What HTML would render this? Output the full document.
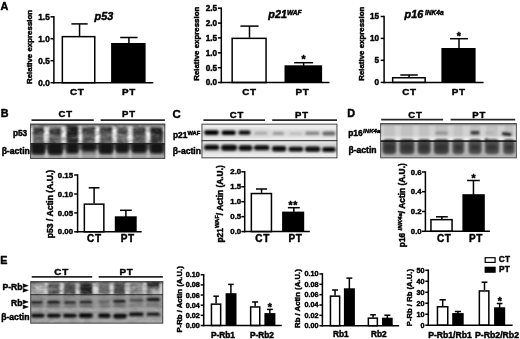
<!DOCTYPE html>
<html><head><meta charset="utf-8"><title>Figure</title>
<style>
html,body{margin:0;padding:0;background:#fff;}
svg{display:block;filter:blur(0.35px)}
text{font-family:"Liberation Sans",sans-serif;font-weight:bold;fill:#000;stroke:#000;stroke-width:0.45px;stroke-linejoin:round;}
</style></head>
<body>
<svg width="520" height="339" viewBox="0 0 520 339">
<rect width="520" height="339" fill="#fff"/>
<defs>
<filter id="b06" x="-20%" y="-20%" width="140%" height="140%"><feGaussianBlur stdDeviation="0.6"/></filter>
<filter id="b09" x="-20%" y="-20%" width="140%" height="140%"><feGaussianBlur stdDeviation="0.9"/></filter>
<filter id="b13" x="-20%" y="-20%" width="140%" height="140%"><feGaussianBlur stdDeviation="1.3"/></filter>
<filter id="b04" x="-20%" y="-20%" width="140%" height="140%"><feGaussianBlur stdDeviation="0.4"/></filter>
<filter id="nzd" x="0" y="0" width="100%" height="100%"><feTurbulence type="fractalNoise" baseFrequency="0.13 0.2" numOctaves="2" seed="7"/><feColorMatrix type="matrix" values="0 0 0 0 0  0 0 0 0 0  0 0 0 0 0  2.2 0 0 0 -0.85"/></filter>
<filter id="nzl" x="0" y="0" width="100%" height="100%"><feTurbulence type="fractalNoise" baseFrequency="0.15 0.22" numOctaves="2" seed="21"/><feColorMatrix type="matrix" values="0 0 0 0 1  0 0 0 0 1  0 0 0 0 1  0 2.2 0 0 -0.95"/></filter>
</defs>
<clipPath id="cB"><rect x="30.20" y="123.70" width="135.00" height="35.10"/></clipPath>
<linearGradient id="gB" x1="0" y1="0" x2="0" y2="1"><stop offset="0" stop-color="#8a8a8a"/><stop offset="0.12" stop-color="#c8c8c8"/><stop offset="0.3" stop-color="#f4f4f4"/><stop offset="1" stop-color="#f6f6f6"/></linearGradient>
<linearGradient id="gBa" x1="0" y1="0" x2="0" y2="1"><stop offset="0" stop-color="#4a4a4a"/><stop offset="0.55" stop-color="#6a6a6a"/><stop offset="0.8" stop-color="#a4a4a4"/><stop offset="1" stop-color="#9a9a9a"/></linearGradient>
<g clip-path="url(#cB)">
<rect x="30.20" y="123.70" width="135.00" height="19.90" fill="url(#gB)"/>
<rect x="30.20" y="143.60" width="135.00" height="15.20" fill="url(#gBa)"/>
<g filter="url(#b09)">
<rect x="28.20" y="122.70" width="139.00" height="2.60" fill="#555"/>
<rect x="32.80" y="126.70" width="11.10" height="16.90" fill="#4a4a4a" opacity="0.7400000000000001"/>
<rect x="33.00" y="127.50" width="10.70" height="7.10" fill="#0a0a0a" opacity="0.48"/>
<rect x="33.20" y="137.20" width="10.30" height="4.40" fill="#111" opacity="0.27999999999999997"/>
<rect x="49.20" y="126.70" width="12.20" height="16.90" fill="#4a4a4a" opacity="0.7240000000000001"/>
<rect x="49.40" y="127.50" width="11.80" height="7.10" fill="#0a0a0a" opacity="0.46799999999999997"/>
<rect x="49.60" y="137.20" width="11.40" height="4.40" fill="#111" opacity="0.27299999999999996"/>
<rect x="66.70" y="126.70" width="11.50" height="16.90" fill="#4a4a4a" opacity="0.876"/>
<rect x="66.90" y="127.50" width="11.10" height="7.10" fill="#0a0a0a" opacity="0.582"/>
<rect x="67.10" y="137.20" width="10.70" height="4.40" fill="#111" opacity="0.33949999999999997"/>
<rect x="82.20" y="126.70" width="12.80" height="16.90" fill="#4a4a4a" opacity="0.7400000000000001"/>
<rect x="82.40" y="127.50" width="12.40" height="7.10" fill="#0a0a0a" opacity="0.48"/>
<rect x="82.60" y="137.20" width="12.00" height="4.40" fill="#111" opacity="0.27999999999999997"/>
<rect x="99.80" y="126.70" width="12.20" height="16.90" fill="#4a4a4a" opacity="0.7400000000000001"/>
<rect x="100.00" y="127.50" width="11.80" height="7.10" fill="#0a0a0a" opacity="0.48"/>
<rect x="100.20" y="137.20" width="11.40" height="4.40" fill="#111" opacity="0.27999999999999997"/>
<rect x="116.80" y="126.70" width="10.90" height="16.90" fill="#4a4a4a" opacity="0.6759999999999999"/>
<rect x="117.00" y="127.50" width="10.50" height="7.10" fill="#0a0a0a" opacity="0.432"/>
<rect x="117.20" y="137.20" width="10.10" height="4.40" fill="#111" opacity="0.252"/>
<rect x="132.60" y="126.70" width="13.10" height="16.90" fill="#4a4a4a" opacity="0.788"/>
<rect x="132.80" y="127.50" width="12.70" height="7.10" fill="#0a0a0a" opacity="0.516"/>
<rect x="133.00" y="137.20" width="12.30" height="4.40" fill="#111" opacity="0.301"/>
<rect x="150.60" y="126.70" width="12.40" height="16.90" fill="#4a4a4a" opacity="0.8360000000000001"/>
<rect x="150.80" y="127.50" width="12.00" height="7.10" fill="#0a0a0a" opacity="0.552"/>
<rect x="151.00" y="137.20" width="11.60" height="4.40" fill="#111" opacity="0.322"/>
<rect x="66.50" y="123.70" width="11.90" height="19.90" fill="#0c0c0c" opacity="0.55"/>
<rect x="150.40" y="128.70" width="12.80" height="13.90" fill="#0c0c0c" opacity="0.4"/>
<rect x="45.00" y="150.00" width="3.00" height="8.80" fill="#d4d4d4" opacity="0.75"/>
<rect x="62.50" y="150.00" width="3.00" height="8.80" fill="#d4d4d4" opacity="0.75"/>
<rect x="78.70" y="150.00" width="3.00" height="8.80" fill="#d4d4d4" opacity="0.75"/>
<rect x="95.90" y="150.00" width="3.00" height="8.80" fill="#d4d4d4" opacity="0.75"/>
<rect x="112.90" y="150.00" width="3.00" height="8.80" fill="#d4d4d4" opacity="0.75"/>
<rect x="128.70" y="150.00" width="3.00" height="8.80" fill="#d4d4d4" opacity="0.75"/>
<rect x="146.70" y="150.00" width="3.00" height="8.80" fill="#d4d4d4" opacity="0.75"/>
</g>
<g filter="url(#b13)">
<rect x="31.70" y="143.10" width="13.20" height="11.30" rx="3.0" fill="#080808" opacity="0.9"/>
<rect x="48.10" y="143.10" width="14.40" height="11.70" rx="3.0" fill="#080808" opacity="0.9"/>
<rect x="66.60" y="143.10" width="11.60" height="10.10" rx="3.0" fill="#080808" opacity="0.9"/>
<rect x="81.80" y="143.10" width="14.00" height="7.70" rx="3.0" fill="#080808" opacity="0.9"/>
<rect x="99.20" y="143.10" width="13.60" height="10.70" rx="3.0" fill="#080808" opacity="0.9"/>
<rect x="116.10" y="143.10" width="12.40" height="9.50" rx="3.0" fill="#080808" opacity="0.9"/>
<rect x="132.00" y="143.10" width="14.40" height="9.30" rx="3.0" fill="#080808" opacity="0.9"/>
<rect x="150.40" y="143.10" width="12.80" height="10.10" rx="3.0" fill="#080808" opacity="0.9"/>
</g>
<rect x="30.20" y="125.70" width="135.00" height="17.90" fill="#000" opacity="0.32" filter="url(#nzd)"/>
<rect x="30.20" y="125.70" width="135.00" height="17.90" fill="#fff" opacity="0.22" filter="url(#nzl)"/>
<rect x="30.20" y="143.00" width="135.00" height="1.30" fill="#1c1c1c" opacity="0.9"/>
</g>
<rect x="30.60" y="124.10" width="134.20" height="34.30" fill="none" stroke="#3a3a3a" stroke-width="0.9"/>
<clipPath id="cC"><rect x="201.50" y="123.70" width="135.90" height="34.60"/></clipPath>
<g clip-path="url(#cC)">
<rect x="201.50" y="123.70" width="135.90" height="34.60" fill="#ececec"/>
<g filter="url(#b13)">
<rect x="201.50" y="128.50" width="68.50" height="9.00" fill="#cfcfcf" opacity="0.7"/>
<rect x="201.50" y="143.00" width="135.90" height="10.00" fill="#cccccc" opacity="0.8"/>
<rect x="270.00" y="129.50" width="67.40" height="7.50" fill="#d6d6d6" opacity="0.8"/>
</g>
<g filter="url(#b09)">
<rect x="204.20" y="130.20" width="14.60" height="4.80" rx="2.4" fill="#050505"/>
<rect x="221.60" y="130.50" width="14.20" height="4.60" rx="2.3" fill="#050505"/>
<rect x="238.50" y="130.60" width="12.10" height="4.20" rx="2.1" fill="#0a0a0a"/>
<rect x="254.60" y="131.80" width="12.70" height="3.00" rx="1.5" fill="#9a9a9a" opacity="0.75"/>
<rect x="272.60" y="131.80" width="11.40" height="3.20" rx="1.6" fill="#8a8a8a" opacity="0.8"/>
<rect x="289.40" y="132.30" width="13.00" height="2.60" rx="1.3" fill="#b0b0b0" opacity="0.7"/>
<rect x="305.20" y="131.50" width="14.20" height="3.40" rx="1.7" fill="#7a7a7a" opacity="0.85"/>
<rect x="322.40" y="131.60" width="13.00" height="4.00" rx="2.0" fill="#5a5a5a" opacity="0.9"/>
<rect x="204.20" y="144.70" width="14.80" height="5.40" rx="2.7" fill="#080808"/>
<rect x="221.20" y="144.80" width="15.80" height="6.00" rx="3.0" fill="#080808"/>
<rect x="238.60" y="145.30" width="13.80" height="5.40" rx="2.7" fill="#080808"/>
<rect x="254.00" y="145.30" width="15.40" height="5.00" rx="2.5" fill="#080808"/>
<rect x="272.00" y="146.10" width="14.20" height="5.40" rx="2.7" fill="#080808"/>
<rect x="288.60" y="146.80" width="14.60" height="4.80" rx="2.4" fill="#080808"/>
<rect x="305.00" y="146.50" width="15.20" height="5.20" rx="2.6" fill="#080808"/>
<rect x="322.20" y="147.00" width="13.40" height="5.00" rx="2.5" fill="#080808"/>
</g>
<rect x="201.50" y="140.10" width="135.90" height="1.10" fill="#2a2a2a" opacity="0.95"/>
</g>
<rect x="201.95" y="124.15" width="135.00" height="33.70" fill="none" stroke="#333" stroke-width="0.9"/>
<clipPath id="cD"><rect x="380.20" y="123.20" width="136.60" height="35.10"/></clipPath>
<g clip-path="url(#cD)">
<rect x="380.20" y="123.20" width="136.60" height="17.90" fill="#d2d2d2"/>
<rect x="380.20" y="141.10" width="136.60" height="17.20" fill="#b4b4b4"/>
<g filter="url(#b13)">
<rect x="383.80" y="124.20" width="11.00" height="12.80" fill="#b9b9b9" opacity="0.7"/>
<rect x="400.90" y="124.20" width="12.10" height="12.80" fill="#b9b9b9" opacity="0.7"/>
<rect x="419.00" y="124.20" width="10.20" height="12.80" fill="#b9b9b9" opacity="0.7"/>
<rect x="435.20" y="124.20" width="12.40" height="12.80" fill="#b9b9b9" opacity="0.7"/>
<rect x="453.80" y="124.20" width="9.00" height="12.80" fill="#b9b9b9" opacity="0.7"/>
<rect x="469.90" y="124.20" width="10.40" height="12.80" fill="#b9b9b9" opacity="0.7"/>
<rect x="486.30" y="124.20" width="11.50" height="12.80" fill="#b9b9b9" opacity="0.7"/>
<rect x="504.50" y="124.20" width="8.80" height="12.80" fill="#b9b9b9" opacity="0.7"/>
<rect x="380.20" y="137.20" width="136.60" height="3.90" fill="#f2f2f2" opacity="0.9"/>
<rect x="378.20" y="121.20" width="140.60" height="3.20" fill="#444"/>
</g>
<g filter="url(#b09)">
</g><g filter="url(#b13)">
<rect x="382.40" y="139.10" width="13.80" height="15.10" rx="4.0" fill="#2e2e2e" opacity="0.85"/>
<ellipse cx="389.30" cy="147.50" rx="5.00" ry="3.00" fill="#222" opacity="0.5"/>
<rect x="399.50" y="139.10" width="14.90" height="15.10" rx="4.0" fill="#2e2e2e" opacity="0.85"/>
<ellipse cx="406.95" cy="147.50" rx="5.55" ry="3.00" fill="#222" opacity="0.5"/>
<rect x="417.60" y="139.10" width="13.00" height="15.10" rx="4.0" fill="#2e2e2e" opacity="0.85"/>
<ellipse cx="424.10" cy="147.50" rx="4.60" ry="3.00" fill="#222" opacity="0.5"/>
<rect x="433.80" y="139.10" width="15.20" height="15.10" rx="4.0" fill="#2e2e2e" opacity="0.85"/>
<ellipse cx="441.40" cy="147.50" rx="5.70" ry="3.00" fill="#222" opacity="0.5"/>
<rect x="452.40" y="139.10" width="11.80" height="15.10" rx="4.0" fill="#3c3c3c" opacity="0.85"/>
<ellipse cx="458.30" cy="147.50" rx="4.00" ry="3.00" fill="#222" opacity="0.5"/>
<rect x="468.50" y="139.10" width="13.20" height="15.10" rx="4.0" fill="#3c3c3c" opacity="0.85"/>
<ellipse cx="475.10" cy="147.50" rx="4.70" ry="3.00" fill="#222" opacity="0.5"/>
<rect x="484.90" y="139.10" width="14.30" height="15.10" rx="4.0" fill="#3c3c3c" opacity="0.85"/>
<ellipse cx="492.05" cy="147.50" rx="5.25" ry="3.00" fill="#222" opacity="0.5"/>
<rect x="503.10" y="139.10" width="11.60" height="15.10" rx="4.0" fill="#3c3c3c" opacity="0.85"/>
<ellipse cx="508.90" cy="147.50" rx="3.90" ry="3.00" fill="#222" opacity="0.5"/>
</g><g filter="url(#b09)">
<rect x="435.40" y="131.60" width="12.60" height="3.00" rx="1.5" fill="#8c8c8c" opacity="0.9"/>
<rect x="470.40" y="130.90" width="9.20" height="3.70" rx="1.8" fill="#2e2e2e" opacity="0.95"/>
<rect x="485.00" y="131.80" width="8.80" height="2.20" rx="1.1" fill="#aaaaaa" opacity="0.8"/>
<rect x="501.8" y="132.6" width="9.6" height="3.0" rx="1.4" fill="#1c1c1c" transform="rotate(7 506.5 134.1)"/>
<ellipse cx="486.20" cy="139.80" rx="1.50" ry="1.50" fill="#222"/>
</g>
<rect x="380.20" y="140.30" width="136.60" height="1.60" fill="#111" opacity="0.95"/>
</g>
<rect x="380.65" y="123.65" width="135.70" height="34.20" fill="none" stroke="#444" stroke-width="0.9"/>
<clipPath id="cE"><rect x="30.30" y="281.30" width="132.90" height="42.30"/></clipPath>
<g clip-path="url(#cE)">
<rect x="30.30" y="281.30" width="132.90" height="13.30" fill="#c6c6c6"/>
<rect x="30.30" y="294.60" width="132.90" height="15.40" fill="#9a9a9a"/>
<rect x="30.30" y="310.00" width="132.90" height="13.60" fill="#a8a8a8"/>
<g filter="url(#b09)">
<rect x="28.30" y="279.30" width="136.90" height="3.20" fill="#444"/>
<rect x="31.50" y="283.30" width="12.70" height="11.30" fill="#8a8a8a" opacity="0.7"/>
<rect x="47.90" y="283.30" width="11.90" height="11.30" fill="#4e4e4e" opacity="0.85"/>
<rect x="63.40" y="283.30" width="12.60" height="11.30" fill="#444" opacity="0.9"/>
<rect x="79.60" y="283.30" width="12.60" height="11.30" fill="#1c1c1c" opacity="0.95"/>
<rect x="98.70" y="283.30" width="11.10" height="11.30" fill="#5a5a5a" opacity="0.85"/>
<rect x="113.40" y="283.30" width="11.90" height="11.30" fill="#3a3a3a" opacity="0.9"/>
<rect x="129.60" y="283.30" width="13.40" height="11.30" fill="#7a7a7a" opacity="0.75"/>
<rect x="146.60" y="283.30" width="13.30" height="11.30" fill="#686868" opacity="0.75"/>
<rect x="44.60" y="283.80" width="2.60" height="10.30" fill="#e6e6e6" opacity="0.65"/>
<rect x="60.30" y="283.80" width="2.60" height="10.30" fill="#e6e6e6" opacity="0.65"/>
<rect x="76.10" y="283.80" width="2.60" height="10.30" fill="#e6e6e6" opacity="0.65"/>
<rect x="94.10" y="283.80" width="2.60" height="10.30" fill="#e6e6e6" opacity="0.65"/>
<rect x="110.30" y="283.80" width="2.60" height="10.30" fill="#e6e6e6" opacity="0.65"/>
<rect x="126.10" y="283.80" width="2.60" height="10.30" fill="#e6e6e6" opacity="0.65"/>
<rect x="143.50" y="283.80" width="2.60" height="10.30" fill="#e6e6e6" opacity="0.65"/>
<rect x="160.20" y="283.80" width="2.60" height="10.30" fill="#e6e6e6" opacity="0.65"/>
<rect x="33.00" y="286.00" width="10.00" height="4.50" fill="#e4e4e4" opacity="0.55"/>
<rect x="49.00" y="288.00" width="10.00" height="2.00" fill="#ddd" opacity="0.3"/>
<rect x="146.60" y="282.30" width="13.30" height="4.70" fill="#0c0c0c" opacity="0.8"/>
<rect x="152.00" y="288.50" width="9.00" height="6.10" fill="#ddd" opacity="0.45"/>
<rect x="31.00" y="295.60" width="11.80" height="13.40" fill="#777" opacity="0.35"/>
<rect x="47.20" y="295.60" width="12.60" height="13.40" fill="#777" opacity="0.35"/>
<rect x="64.10" y="295.60" width="11.90" height="13.40" fill="#777" opacity="0.35"/>
<rect x="79.60" y="295.60" width="12.60" height="13.40" fill="#777" opacity="0.35"/>
<rect x="99.00" y="295.60" width="11.00" height="13.40" fill="#777" opacity="0.35"/>
<rect x="113.40" y="295.60" width="12.20" height="13.40" fill="#777" opacity="0.35"/>
<rect x="129.60" y="295.60" width="13.40" height="13.40" fill="#777" opacity="0.35"/>
<rect x="146.60" y="295.60" width="13.40" height="13.40" fill="#777" opacity="0.35"/>
<rect x="31.00" y="300.95" width="11.80" height="2.70" rx="1.35" fill="#0c0c0c"/>
<rect x="47.20" y="300.70" width="12.60" height="3.00" rx="1.5" fill="#080808"/>
<rect x="64.10" y="301.35" width="11.90" height="2.50" rx="1.25" fill="#141414"/>
<rect x="79.60" y="300.85" width="12.60" height="2.70" rx="1.35" fill="#0c0c0c"/>
<rect x="99.00" y="300.80" width="11.00" height="2.00" rx="1.0" fill="#5e5e5e"/>
<rect x="113.40" y="299.80" width="12.20" height="3.00" rx="1.5" fill="#0c0c0c"/>
<rect x="129.60" y="299.00" width="13.40" height="2.60" rx="1.3" fill="#444"/>
<rect x="146.60" y="297.80" width="13.40" height="3.40" rx="1.7" fill="#0c0c0c"/>
<rect x="31.00" y="305.20" width="11.80" height="1.60" rx="0.8" fill="#555" opacity="0.9"/>
<rect x="47.20" y="305.20" width="12.60" height="1.60" rx="0.8" fill="#555" opacity="0.9"/>
<rect x="64.10" y="305.40" width="11.90" height="1.60" rx="0.8" fill="#666" opacity="0.9"/>
<rect x="79.60" y="305.20" width="12.60" height="1.60" rx="0.8" fill="#555" opacity="0.9"/>
<rect x="99.00" y="304.60" width="11.00" height="1.60" rx="0.8" fill="#7c7c7c" opacity="0.9"/>
<rect x="113.40" y="304.60" width="12.20" height="1.60" rx="0.8" fill="#666" opacity="0.9"/>
<rect x="129.60" y="304.40" width="13.40" height="1.60" rx="0.8" fill="#777" opacity="0.9"/>
<rect x="146.60" y="303.80" width="13.40" height="1.60" rx="0.8" fill="#6a6a6a" opacity="0.9"/>
<rect x="30.30" y="309.00" width="132.90" height="1.20" fill="#d4d4d4" opacity="0.8"/>
<rect x="30.30" y="310.30" width="132.90" height="1.30" fill="#6c6c6c" opacity="0.7"/>
<rect x="31.00" y="313.50" width="13.60" height="4.20" rx="2.1" fill="#0a0a0a"/>
<rect x="46.90" y="313.50" width="13.90" height="4.20" rx="2.1" fill="#0a0a0a"/>
<rect x="63.00" y="313.60" width="13.70" height="4.20" rx="2.1" fill="#0a0a0a"/>
<rect x="78.80" y="313.00" width="14.10" height="5.00" rx="2.5" fill="#0a0a0a"/>
<rect x="98.00" y="313.30" width="12.60" height="4.80" rx="2.4" fill="#0a0a0a"/>
<rect x="113.20" y="313.40" width="13.60" height="5.00" rx="2.5" fill="#0a0a0a"/>
<rect x="128.90" y="312.30" width="14.70" height="4.00" rx="2.0" fill="#0a0a0a"/>
<rect x="146.60" y="312.60" width="13.30" height="3.20" rx="1.6" fill="#0a0a0a"/>
</g>
<rect x="30.30" y="281.30" width="132.90" height="13.30" fill="#000" opacity="0.3" filter="url(#nzd)"/>
<rect x="30.30" y="281.30" width="132.90" height="13.30" fill="#fff" opacity="0.2" filter="url(#nzl)"/>
<rect x="30.30" y="294.60" width="132.90" height="29.00" fill="#000" opacity="0.12" filter="url(#nzd)"/>
<rect x="30.30" y="294.10" width="132.90" height="1.10" fill="#2a2a2a" opacity="0.9"/>
</g>
<rect x="30.75" y="281.75" width="132.00" height="41.40" fill="none" stroke="#3a3a3a" stroke-width="0.9"/>
<text x="0.40" y="9.60" font-size="10.8" text-anchor="start">A</text>
<line x1="79.55" y1="23.90" x2="79.55" y2="35.90" stroke="#000" stroke-width="1.5"/>
<line x1="71.40" y1="23.90" x2="87.70" y2="23.90" stroke="#000" stroke-width="1.5"/>
<rect x="62.35" y="36.65" width="32.40" height="46.05" fill="#fff" stroke="#000" stroke-width="1.5"/>
<line x1="128.90" y1="37.50" x2="128.90" y2="44.00" stroke="#000" stroke-width="1.5"/>
<line x1="120.20" y1="37.50" x2="137.60" y2="37.50" stroke="#000" stroke-width="1.5"/>
<rect x="111.10" y="43.00" width="34.50" height="39.70" fill="#000"/>
<line x1="53.90" y1="16.05" x2="53.90" y2="83.45" stroke="#000" stroke-width="1.5"/>
<line x1="53.15" y1="82.70" x2="153.30" y2="82.70" stroke="#000" stroke-width="1.5"/>
<line x1="50.50" y1="16.80" x2="53.90" y2="16.80" stroke="#000" stroke-width="1.5"/>
<text x="49.70" y="19.63" font-size="8.2" text-anchor="end">1.5</text>
<line x1="50.50" y1="38.70" x2="53.90" y2="38.70" stroke="#000" stroke-width="1.5"/>
<text x="49.70" y="41.53" font-size="8.2" text-anchor="end">1.0</text>
<line x1="50.50" y1="60.70" x2="53.90" y2="60.70" stroke="#000" stroke-width="1.5"/>
<text x="49.70" y="63.53" font-size="8.2" text-anchor="end">0.5</text>
<line x1="50.50" y1="82.70" x2="53.90" y2="82.70" stroke="#000" stroke-width="1.5"/>
<text x="49.70" y="85.53" font-size="8.2" text-anchor="end">0.0</text>
<text x="31.90" y="84.00" font-size="7.9" text-anchor="start" transform="rotate(-90 31.90 84.00)">Relative expression</text>
<text x="77.15" y="95.20" font-size="9.8" text-anchor="middle" letter-spacing="0.7">CT</text>
<text x="129.05" y="95.20" font-size="9.8" text-anchor="middle" letter-spacing="0.7">PT</text>
<text x="94.60" y="19.90" font-size="10.8" text-anchor="start" font-style="italic">p53</text>
<line x1="249.50" y1="26.10" x2="249.50" y2="37.60" stroke="#000" stroke-width="1.5"/>
<line x1="240.40" y1="26.10" x2="258.60" y2="26.10" stroke="#000" stroke-width="1.5"/>
<rect x="232.15" y="38.35" width="33.90" height="44.15" fill="#fff" stroke="#000" stroke-width="1.5"/>
<line x1="303.60" y1="62.70" x2="303.60" y2="66.30" stroke="#000" stroke-width="1.5"/>
<line x1="294.10" y1="62.70" x2="313.10" y2="62.70" stroke="#000" stroke-width="1.5"/>
<rect x="284.50" y="65.30" width="37.60" height="17.20" fill="#000"/>
<line x1="221.30" y1="7.45" x2="221.30" y2="83.25" stroke="#000" stroke-width="1.5"/>
<line x1="220.55" y1="82.50" x2="329.50" y2="82.50" stroke="#000" stroke-width="1.5"/>
<line x1="217.90" y1="8.20" x2="221.30" y2="8.20" stroke="#000" stroke-width="1.5"/>
<text x="217.10" y="11.03" font-size="8.2" text-anchor="end">2.5</text>
<line x1="217.90" y1="23.10" x2="221.30" y2="23.10" stroke="#000" stroke-width="1.5"/>
<text x="217.10" y="25.93" font-size="8.2" text-anchor="end">2.0</text>
<line x1="217.90" y1="37.90" x2="221.30" y2="37.90" stroke="#000" stroke-width="1.5"/>
<text x="217.10" y="40.73" font-size="8.2" text-anchor="end">1.5</text>
<line x1="217.90" y1="52.80" x2="221.30" y2="52.80" stroke="#000" stroke-width="1.5"/>
<text x="217.10" y="55.63" font-size="8.2" text-anchor="end">1.0</text>
<line x1="217.90" y1="67.70" x2="221.30" y2="67.70" stroke="#000" stroke-width="1.5"/>
<text x="217.10" y="70.53" font-size="8.2" text-anchor="end">0.5</text>
<line x1="217.90" y1="82.50" x2="221.30" y2="82.50" stroke="#000" stroke-width="1.5"/>
<text x="217.10" y="85.33" font-size="8.2" text-anchor="end">0.0</text>
<text x="199.40" y="80.80" font-size="7.9" text-anchor="start" transform="rotate(-90 199.40 80.80)">Relative expression</text>
<text x="249.55" y="95.20" font-size="9.8" text-anchor="middle" letter-spacing="0.7">CT</text>
<text x="302.50" y="95.20" font-size="9.8" text-anchor="middle" letter-spacing="0.7">PT</text>
<text x="268.3" y="17.8" font-size="10.8" font-style="italic">p21<tspan font-size="6.6" dy="-3.0">WAF</tspan></text>
<text x="303.50" y="63.40" font-size="10.5" text-anchor="middle">*</text>
<line x1="409.05" y1="75.00" x2="409.05" y2="77.00" stroke="#000" stroke-width="1.5"/>
<line x1="400.30" y1="75.00" x2="417.80" y2="75.00" stroke="#000" stroke-width="1.5"/>
<rect x="392.65" y="77.75" width="32.50" height="4.65" fill="#fff" stroke="#000" stroke-width="1.5"/>
<line x1="459.00" y1="38.70" x2="459.00" y2="49.00" stroke="#000" stroke-width="1.5"/>
<line x1="450.00" y1="38.70" x2="468.00" y2="38.70" stroke="#000" stroke-width="1.5"/>
<rect x="441.40" y="48.00" width="34.20" height="34.40" fill="#000"/>
<line x1="384.10" y1="15.75" x2="384.10" y2="83.15" stroke="#000" stroke-width="1.5"/>
<line x1="383.35" y1="82.40" x2="483.60" y2="82.40" stroke="#000" stroke-width="1.5"/>
<line x1="380.70" y1="16.50" x2="384.10" y2="16.50" stroke="#000" stroke-width="1.5"/>
<text x="379.10" y="19.33" font-size="8.2" text-anchor="end">15</text>
<line x1="380.70" y1="38.40" x2="384.10" y2="38.40" stroke="#000" stroke-width="1.5"/>
<text x="379.10" y="41.23" font-size="8.2" text-anchor="end">10</text>
<line x1="380.70" y1="60.30" x2="384.10" y2="60.30" stroke="#000" stroke-width="1.5"/>
<text x="379.10" y="63.13" font-size="8.2" text-anchor="end">5</text>
<line x1="380.70" y1="82.40" x2="384.10" y2="82.40" stroke="#000" stroke-width="1.5"/>
<text x="379.10" y="85.23" font-size="8.2" text-anchor="end">0</text>
<text x="364.40" y="80.80" font-size="7.9" text-anchor="start" transform="rotate(-90 364.40 80.80)">Relative expression</text>
<text x="409.45" y="95.20" font-size="9.8" text-anchor="middle" letter-spacing="0.7">CT</text>
<text x="458.70" y="95.20" font-size="9.8" text-anchor="middle" letter-spacing="0.7">PT</text>
<text x="404.6" y="18.2" font-size="10.8" font-style="italic">p16<tspan font-size="6.6" dx="1.7" dy="-3.1">INK4a</tspan></text>
<text x="458.90" y="39.60" font-size="10.5" text-anchor="middle">*</text>
<text x="0.70" y="117.00" font-size="10.8" text-anchor="start">B</text>
<text x="65.85" y="117.40" font-size="9.5" text-anchor="middle" letter-spacing="0.9">CT</text>
<text x="129.10" y="117.40" font-size="9.5" text-anchor="middle" letter-spacing="0.9">PT</text>
<line x1="31.50" y1="120.10" x2="93.80" y2="120.10" stroke="#262626" stroke-width="1.6"/>
<line x1="100.60" y1="120.10" x2="164.90" y2="120.10" stroke="#262626" stroke-width="1.6"/>
<text x="27.20" y="136.30" font-size="8.3" text-anchor="end">p53</text>
<text x="29.80" y="153.60" font-size="8.6" text-anchor="end">β-actin</text>
<!--BLOT_B-->
<line x1="94.10" y1="187.80" x2="94.10" y2="203.40" stroke="#000" stroke-width="1.5"/>
<line x1="88.70" y1="187.80" x2="99.50" y2="187.80" stroke="#000" stroke-width="1.5"/>
<rect x="84.35" y="204.15" width="19.50" height="27.65" fill="#fff" stroke="#000" stroke-width="1.5"/>
<line x1="125.90" y1="210.30" x2="125.90" y2="217.30" stroke="#000" stroke-width="1.5"/>
<line x1="120.00" y1="210.30" x2="131.80" y2="210.30" stroke="#000" stroke-width="1.5"/>
<rect x="114.80" y="216.30" width="21.90" height="15.50" fill="#000"/>
<line x1="77.60" y1="174.25" x2="77.60" y2="232.55" stroke="#000" stroke-width="1.5"/>
<line x1="76.85" y1="231.80" x2="141.70" y2="231.80" stroke="#000" stroke-width="1.5"/>
<line x1="74.20" y1="175.00" x2="77.60" y2="175.00" stroke="#000" stroke-width="1.5"/>
<text x="73.00" y="177.69" font-size="7.8" text-anchor="end">0.15</text>
<line x1="74.20" y1="194.00" x2="77.60" y2="194.00" stroke="#000" stroke-width="1.5"/>
<text x="73.00" y="196.69" font-size="7.8" text-anchor="end">0.10</text>
<line x1="74.20" y1="212.90" x2="77.60" y2="212.90" stroke="#000" stroke-width="1.5"/>
<text x="73.00" y="215.59" font-size="7.8" text-anchor="end">0.05</text>
<line x1="74.20" y1="231.80" x2="77.60" y2="231.80" stroke="#000" stroke-width="1.5"/>
<text x="73.00" y="234.49" font-size="7.8" text-anchor="end">0.00</text>
<text x="53.40" y="238.20" font-size="8.6" text-anchor="start" transform="rotate(-90 53.40 238.20)">p53 / Actin (A.U.)</text>
<text x="94.45" y="242.20" font-size="10.0" text-anchor="middle" letter-spacing="0.7">CT</text>
<text x="127.85" y="242.20" font-size="10.0" text-anchor="middle" letter-spacing="0.7">PT</text>
<text x="172.40" y="117.50" font-size="11.4" text-anchor="start">C</text>
<text x="237.00" y="117.50" font-size="9.5" text-anchor="middle" letter-spacing="0.9">CT</text>
<text x="302.05" y="117.50" font-size="9.5" text-anchor="middle" letter-spacing="0.9">PT</text>
<line x1="203.40" y1="120.10" x2="265.00" y2="120.10" stroke="#262626" stroke-width="1.6"/>
<line x1="272.20" y1="120.10" x2="337.00" y2="120.10" stroke="#262626" stroke-width="1.6"/>
<text x="173.0" y="137.9" font-size="8.4">p21<tspan font-size="5.8" dy="-3.3">WAF</tspan></text>
<text x="172.80" y="153.60" font-size="8.6" text-anchor="start">β-actin</text>
<!--BLOT_C-->
<line x1="261.55" y1="189.00" x2="261.55" y2="192.80" stroke="#000" stroke-width="1.5"/>
<line x1="256.00" y1="189.00" x2="267.10" y2="189.00" stroke="#000" stroke-width="1.5"/>
<rect x="251.35" y="193.55" width="20.10" height="38.05" fill="#fff" stroke="#000" stroke-width="1.5"/>
<line x1="293.85" y1="207.70" x2="293.85" y2="212.60" stroke="#000" stroke-width="1.5"/>
<line x1="287.90" y1="207.70" x2="299.80" y2="207.70" stroke="#000" stroke-width="1.5"/>
<rect x="282.10" y="211.60" width="22.10" height="20.00" fill="#000"/>
<line x1="244.70" y1="171.05" x2="244.70" y2="232.35" stroke="#000" stroke-width="1.5"/>
<line x1="243.95" y1="231.60" x2="309.80" y2="231.60" stroke="#000" stroke-width="1.5"/>
<line x1="241.30" y1="171.80" x2="244.70" y2="171.80" stroke="#000" stroke-width="1.5"/>
<text x="241.20" y="174.49" font-size="7.8" text-anchor="end">2.0</text>
<line x1="241.30" y1="186.80" x2="244.70" y2="186.80" stroke="#000" stroke-width="1.5"/>
<text x="241.20" y="189.49" font-size="7.8" text-anchor="end">1.5</text>
<line x1="241.30" y1="201.70" x2="244.70" y2="201.70" stroke="#000" stroke-width="1.5"/>
<text x="241.20" y="204.39" font-size="7.8" text-anchor="end">1.0</text>
<line x1="241.30" y1="216.70" x2="244.70" y2="216.70" stroke="#000" stroke-width="1.5"/>
<text x="241.20" y="219.39" font-size="7.8" text-anchor="end">0.5</text>
<line x1="241.30" y1="231.60" x2="244.70" y2="231.60" stroke="#000" stroke-width="1.5"/>
<text x="241.20" y="234.29" font-size="7.8" text-anchor="end">0.0</text>
<text x="222.6" y="242.5" font-size="8.4" transform="rotate(-90 222.6 242.5)">p21<tspan font-size="5.8" dy="-3.3">WAF</tspan><tspan dy="3.3">/ Actin (A.U.)</tspan></text>
<text x="262.65" y="242.20" font-size="10.0" text-anchor="middle" letter-spacing="0.7">CT</text>
<text x="295.60" y="242.30" font-size="10.0" text-anchor="middle" letter-spacing="0.7">PT</text>
<text x="293.20" y="209.40" font-size="10.5" text-anchor="middle" letter-spacing="0.6">**</text>
<text x="347.20" y="117.30" font-size="10.8" text-anchor="start">D</text>
<text x="415.55" y="117.60" font-size="9.5" text-anchor="middle" letter-spacing="0.9">CT</text>
<text x="479.25" y="117.60" font-size="9.5" text-anchor="middle" letter-spacing="0.9">PT</text>
<line x1="381.20" y1="119.60" x2="443.10" y2="119.60" stroke="#262626" stroke-width="1.6"/>
<line x1="450.60" y1="119.60" x2="515.20" y2="119.60" stroke="#262626" stroke-width="1.6"/>
<text x="348.2" y="136.4" font-size="8.4">p16<tspan font-size="6.1" font-style="italic" dy="-3.5" dx="0.4">INK4a</tspan></text>
<text x="348.40" y="152.80" font-size="8.6" text-anchor="start">β-actin</text>
<!--BLOT_D-->
<line x1="441.90" y1="216.80" x2="441.90" y2="218.90" stroke="#000" stroke-width="1.5"/>
<line x1="436.00" y1="216.80" x2="447.80" y2="216.80" stroke="#000" stroke-width="1.5"/>
<rect x="430.95" y="219.65" width="21.10" height="11.65" fill="#fff" stroke="#000" stroke-width="1.5"/>
<line x1="473.45" y1="180.50" x2="473.45" y2="195.20" stroke="#000" stroke-width="1.5"/>
<line x1="467.10" y1="180.50" x2="479.80" y2="180.50" stroke="#000" stroke-width="1.5"/>
<rect x="462.40" y="194.20" width="22.40" height="37.10" fill="#000"/>
<line x1="425.40" y1="171.25" x2="425.40" y2="232.05" stroke="#000" stroke-width="1.5"/>
<line x1="424.65" y1="231.30" x2="489.90" y2="231.30" stroke="#000" stroke-width="1.5"/>
<line x1="422.00" y1="172.00" x2="425.40" y2="172.00" stroke="#000" stroke-width="1.5"/>
<text x="421.70" y="174.69" font-size="7.8" text-anchor="end">0.6</text>
<line x1="422.00" y1="191.70" x2="425.40" y2="191.70" stroke="#000" stroke-width="1.5"/>
<text x="421.70" y="194.39" font-size="7.8" text-anchor="end">0.4</text>
<line x1="422.00" y1="211.50" x2="425.40" y2="211.50" stroke="#000" stroke-width="1.5"/>
<text x="421.70" y="214.19" font-size="7.8" text-anchor="end">0.2</text>
<line x1="422.00" y1="231.30" x2="425.40" y2="231.30" stroke="#000" stroke-width="1.5"/>
<text x="421.70" y="233.99" font-size="7.8" text-anchor="end">0.0</text>
<text x="405.4" y="247.2" font-size="8.4" transform="rotate(-90 405.4 247.2)">p16 <tspan font-size="6.1" font-style="italic" dy="-3.3">INK4a</tspan><tspan dy="3.3">/ Actin (A.U.)</tspan></text>
<text x="444.30" y="242.00" font-size="10.0" text-anchor="middle" letter-spacing="0.7">CT</text>
<text x="476.05" y="242.00" font-size="10.0" text-anchor="middle" letter-spacing="0.7">PT</text>
<text x="473.50" y="182.20" font-size="10.5" text-anchor="middle">*</text>
<text x="0.30" y="264.00" font-size="10.8" text-anchor="start">E</text>
<text x="61.70" y="275.40" font-size="9.9" text-anchor="middle" letter-spacing="0.8">CT</text>
<text x="126.60" y="275.40" font-size="9.9" text-anchor="middle" letter-spacing="0.8">PT</text>
<line x1="31.70" y1="276.90" x2="92.20" y2="276.90" stroke="#262626" stroke-width="1.6"/>
<line x1="98.70" y1="276.90" x2="162.90" y2="276.90" stroke="#262626" stroke-width="1.6"/>
<text x="22.50" y="289.50" font-size="8.6" text-anchor="end">P-Rb</text>
<text x="22.50" y="305.60" font-size="8.6" text-anchor="end">Rb</text>
<text x="29.40" y="319.50" font-size="8.6" text-anchor="end">β-actin</text>
<polygon points="22.9,283.80 28.3,285.70 22.9,287.60 23.3,285.70" fill="#000" stroke="#000" stroke-width="0.5" stroke-linejoin="round"/>
<polygon points="22.9,288.40 28.3,290.30 22.9,292.20 23.3,290.30" fill="#000" stroke="#000" stroke-width="0.5" stroke-linejoin="round"/>
<polygon points="22.9,300.00 28.3,301.90 22.9,303.80 23.3,301.90" fill="#000" stroke="#000" stroke-width="0.5" stroke-linejoin="round"/>
<polygon points="22.9,305.00 28.3,306.90 22.9,308.80 23.3,306.90" fill="#000" stroke="#000" stroke-width="0.5" stroke-linejoin="round"/>
<!--BLOT_E-->
<line x1="216.10" y1="296.20" x2="216.10" y2="303.40" stroke="#000" stroke-width="1.5"/>
<line x1="213.30" y1="296.20" x2="218.90" y2="296.20" stroke="#000" stroke-width="1.5"/>
<rect x="211.45" y="304.15" width="9.20" height="21.35" fill="#fff" stroke="#000" stroke-width="1.5"/>
<line x1="230.90" y1="284.40" x2="230.90" y2="294.20" stroke="#000" stroke-width="1.5"/>
<line x1="228.10" y1="284.40" x2="233.70" y2="284.40" stroke="#000" stroke-width="1.5"/>
<rect x="225.60" y="293.20" width="10.90" height="32.30" fill="#000"/>
<line x1="255.15" y1="302.00" x2="255.15" y2="306.20" stroke="#000" stroke-width="1.5"/>
<line x1="252.10" y1="302.00" x2="258.20" y2="302.00" stroke="#000" stroke-width="1.5"/>
<rect x="250.65" y="306.95" width="9.10" height="18.55" fill="#fff" stroke="#000" stroke-width="1.5"/>
<line x1="269.85" y1="309.40" x2="269.85" y2="314.10" stroke="#000" stroke-width="1.5"/>
<line x1="266.90" y1="309.40" x2="272.80" y2="309.40" stroke="#000" stroke-width="1.5"/>
<rect x="264.40" y="313.10" width="11.00" height="12.40" fill="#000"/>
<line x1="203.70" y1="274.00" x2="203.70" y2="326.25" stroke="#000" stroke-width="1.5"/>
<line x1="202.95" y1="325.50" x2="281.80" y2="325.50" stroke="#000" stroke-width="1.5"/>
<line x1="200.70" y1="325.50" x2="203.70" y2="325.50" stroke="#000" stroke-width="1.5"/>
<text x="199.80" y="327.98" font-size="7.2" text-anchor="end">0.00</text>
<line x1="200.70" y1="315.35" x2="203.70" y2="315.35" stroke="#000" stroke-width="1.5"/>
<text x="199.80" y="317.83" font-size="7.2" text-anchor="end">0.02</text>
<line x1="200.70" y1="305.20" x2="203.70" y2="305.20" stroke="#000" stroke-width="1.5"/>
<text x="199.80" y="307.68" font-size="7.2" text-anchor="end">0.04</text>
<line x1="200.70" y1="295.05" x2="203.70" y2="295.05" stroke="#000" stroke-width="1.5"/>
<text x="199.80" y="297.53" font-size="7.2" text-anchor="end">0.06</text>
<line x1="200.70" y1="284.90" x2="203.70" y2="284.90" stroke="#000" stroke-width="1.5"/>
<text x="199.80" y="287.38" font-size="7.2" text-anchor="end">0.08</text>
<line x1="200.70" y1="274.75" x2="203.70" y2="274.75" stroke="#000" stroke-width="1.5"/>
<text x="199.80" y="277.23" font-size="7.2" text-anchor="end">0.10</text>
<text x="181.80" y="332.60" font-size="7.75" text-anchor="start" transform="rotate(-90 181.80 332.60)">P-Rb / Actin (A.U.)</text>
<text x="223.00" y="337.60" font-size="8.3" text-anchor="middle">P-Rb1</text>
<text x="261.90" y="337.60" font-size="8.3" text-anchor="middle">P-Rb2</text>
<text x="269.90" y="311.30" font-size="10.5" text-anchor="middle">*</text>
<line x1="335.05" y1="290.00" x2="335.05" y2="295.40" stroke="#000" stroke-width="1.5"/>
<line x1="332.10" y1="290.00" x2="338.00" y2="290.00" stroke="#000" stroke-width="1.5"/>
<rect x="330.45" y="296.15" width="9.20" height="29.55" fill="#fff" stroke="#000" stroke-width="1.5"/>
<line x1="349.35" y1="278.10" x2="349.35" y2="289.30" stroke="#000" stroke-width="1.5"/>
<line x1="346.40" y1="278.10" x2="352.30" y2="278.10" stroke="#000" stroke-width="1.5"/>
<rect x="343.90" y="288.30" width="11.00" height="37.40" fill="#000"/>
<line x1="373.05" y1="314.80" x2="373.05" y2="317.40" stroke="#000" stroke-width="1.5"/>
<line x1="370.20" y1="314.80" x2="375.90" y2="314.80" stroke="#000" stroke-width="1.5"/>
<rect x="368.35" y="318.15" width="9.00" height="7.55" fill="#fff" stroke="#000" stroke-width="1.5"/>
<line x1="387.35" y1="315.20" x2="387.35" y2="318.70" stroke="#000" stroke-width="1.5"/>
<line x1="384.30" y1="315.20" x2="390.40" y2="315.20" stroke="#000" stroke-width="1.5"/>
<rect x="382.00" y="317.70" width="10.70" height="8.00" fill="#000"/>
<line x1="322.40" y1="273.20" x2="322.40" y2="326.45" stroke="#000" stroke-width="1.5"/>
<line x1="321.65" y1="325.70" x2="399.10" y2="325.70" stroke="#000" stroke-width="1.5"/>
<line x1="319.40" y1="325.70" x2="322.40" y2="325.70" stroke="#000" stroke-width="1.5"/>
<text x="318.50" y="328.18" font-size="7.2" text-anchor="end">0.00</text>
<line x1="319.40" y1="315.35" x2="322.40" y2="315.35" stroke="#000" stroke-width="1.5"/>
<text x="318.50" y="317.83" font-size="7.2" text-anchor="end">0.02</text>
<line x1="319.40" y1="305.00" x2="322.40" y2="305.00" stroke="#000" stroke-width="1.5"/>
<text x="318.50" y="307.48" font-size="7.2" text-anchor="end">0.04</text>
<line x1="319.40" y1="294.65" x2="322.40" y2="294.65" stroke="#000" stroke-width="1.5"/>
<text x="318.50" y="297.13" font-size="7.2" text-anchor="end">0.06</text>
<line x1="319.40" y1="284.30" x2="322.40" y2="284.30" stroke="#000" stroke-width="1.5"/>
<text x="318.50" y="286.78" font-size="7.2" text-anchor="end">0.08</text>
<line x1="319.40" y1="273.95" x2="322.40" y2="273.95" stroke="#000" stroke-width="1.5"/>
<text x="318.50" y="276.43" font-size="7.2" text-anchor="end">0.10</text>
<text x="300.40" y="327.90" font-size="7.75" text-anchor="start" transform="rotate(-90 300.40 327.90)">Rb / Actin (A.U.)</text>
<text x="340.90" y="337.40" font-size="8.3" text-anchor="middle">Rb1</text>
<text x="378.90" y="337.40" font-size="8.3" text-anchor="middle">Rb2</text>
<line x1="442.70" y1="299.80" x2="442.70" y2="306.00" stroke="#000" stroke-width="1.5"/>
<line x1="439.50" y1="299.80" x2="445.90" y2="299.80" stroke="#000" stroke-width="1.5"/>
<rect x="437.45" y="306.75" width="10.30" height="18.45" fill="#fff" stroke="#000" stroke-width="1.5"/>
<line x1="457.90" y1="311.50" x2="457.90" y2="314.10" stroke="#000" stroke-width="1.5"/>
<line x1="454.80" y1="311.50" x2="461.00" y2="311.50" stroke="#000" stroke-width="1.5"/>
<rect x="452.20" y="313.10" width="11.50" height="12.10" fill="#000"/>
<line x1="484.50" y1="282.20" x2="484.50" y2="290.20" stroke="#000" stroke-width="1.5"/>
<line x1="481.60" y1="282.20" x2="487.40" y2="282.20" stroke="#000" stroke-width="1.5"/>
<rect x="479.35" y="290.95" width="9.50" height="34.25" fill="#fff" stroke="#000" stroke-width="1.5"/>
<line x1="499.65" y1="303.50" x2="499.65" y2="308.30" stroke="#000" stroke-width="1.5"/>
<line x1="496.80" y1="303.50" x2="502.50" y2="303.50" stroke="#000" stroke-width="1.5"/>
<rect x="494.10" y="307.30" width="11.10" height="17.90" fill="#000"/>
<line x1="428.30" y1="269.55" x2="428.30" y2="325.95" stroke="#000" stroke-width="1.5"/>
<line x1="427.55" y1="325.20" x2="512.60" y2="325.20" stroke="#000" stroke-width="1.5"/>
<line x1="425.30" y1="325.20" x2="428.30" y2="325.20" stroke="#000" stroke-width="1.5"/>
<text x="424.40" y="327.68" font-size="7.2" text-anchor="end">0</text>
<line x1="425.30" y1="314.22" x2="428.30" y2="314.22" stroke="#000" stroke-width="1.5"/>
<text x="424.40" y="316.70" font-size="7.2" text-anchor="end">10</text>
<line x1="425.30" y1="303.24" x2="428.30" y2="303.24" stroke="#000" stroke-width="1.5"/>
<text x="424.40" y="305.72" font-size="7.2" text-anchor="end">20</text>
<line x1="425.30" y1="292.26" x2="428.30" y2="292.26" stroke="#000" stroke-width="1.5"/>
<text x="424.40" y="294.74" font-size="7.2" text-anchor="end">30</text>
<line x1="425.30" y1="281.28" x2="428.30" y2="281.28" stroke="#000" stroke-width="1.5"/>
<text x="424.40" y="283.76" font-size="7.2" text-anchor="end">40</text>
<line x1="425.30" y1="270.30" x2="428.30" y2="270.30" stroke="#000" stroke-width="1.5"/>
<text x="424.40" y="272.78" font-size="7.2" text-anchor="end">50</text>
<text x="411.60" y="326.20" font-size="7.7" text-anchor="start" transform="rotate(-90 411.60 326.20)">P-Rb / Rb (A.U.)</text>
<text x="450.00" y="337.60" font-size="8.65" text-anchor="middle">P-Rb1/Rb1</text>
<text x="497.00" y="337.60" font-size="8.7" text-anchor="middle">P-Rb2/Rb2</text>
<text x="499.70" y="305.10" font-size="10.5" text-anchor="middle">*</text>
<rect x="485.2" y="257.7" width="9.9" height="4.7" fill="#fff" stroke="#000" stroke-width="1.2"/>
<rect x="484.6" y="266.7" width="11.1" height="6.1" fill="#000"/>
<text x="498.70" y="262.00" font-size="8.2" text-anchor="start" letter-spacing="0.4">CT</text>
<text x="498.90" y="272.10" font-size="8.2" text-anchor="start" letter-spacing="0.4">PT</text>
</svg>
</body></html>
